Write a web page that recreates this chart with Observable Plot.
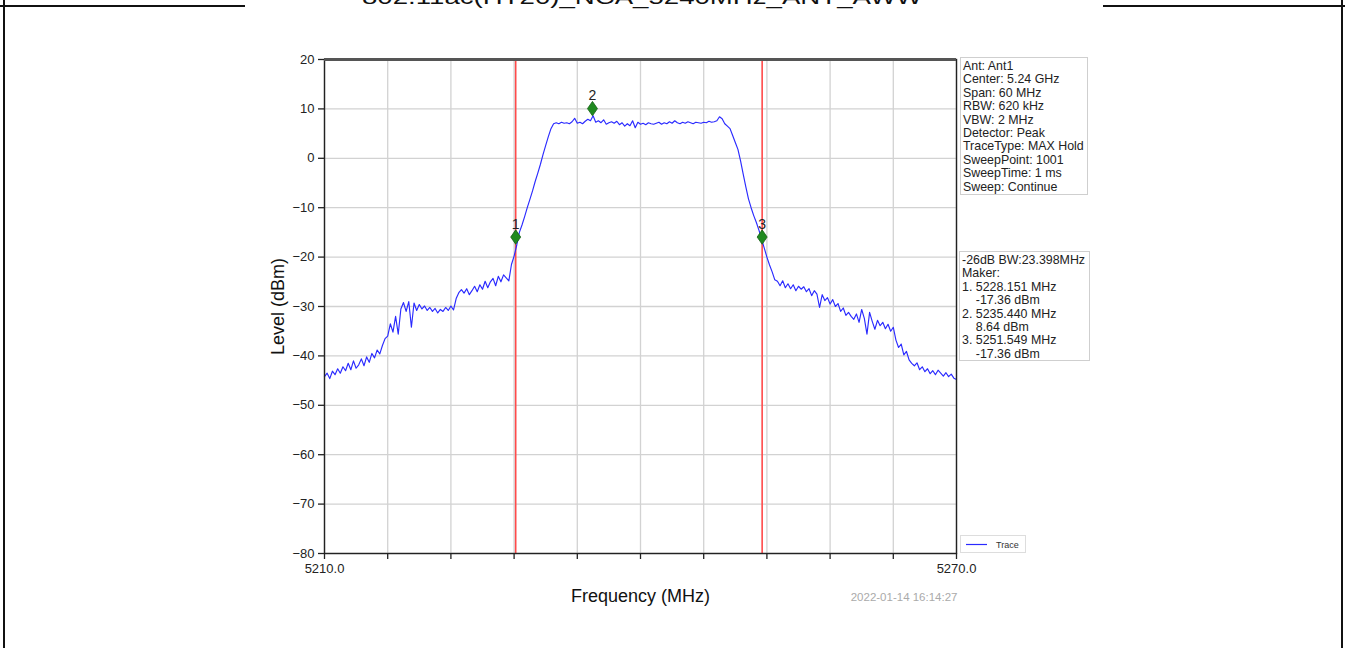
<!DOCTYPE html>
<html>
<head>
<meta charset="utf-8">
<script src="https://cdn.jsdelivr.net/npm/d3@7"></script>
<script src="https://cdn.jsdelivr.net/npm/@observablehq/plot@0.6"></script>
<style>
  html, body { margin: 0; padding: 0; background: #fff; }
  #page { position: relative; width: 1345px; height: 648px; overflow: hidden; font-family: "Liberation Sans", Arial, sans-serif; }
  .vline { position: absolute; top: 0; width: 2px; height: 648px; background: #111; }
  .hline { position: absolute; top: 5px; height: 2px; background: #111; }
  .info { position: absolute; border: 1px solid #cfcfcf; background: #fff; font-size: 12.4px; line-height: 13.4px; color: #222; padding: 2px 1px 2px 2px; box-sizing: border-box; white-space: pre; overflow: hidden; }
  #legend { position: absolute; left: 960px; top: 535px; width: 66px; height: 18px; border: 1px solid #ddd; box-sizing: border-box; background: #fff; font-size: 9px; color: #333; }
  #chart { position: absolute; left: 0; top: 0; }
</style>
</head>
<body>
<div id="page">
  <svg id="title" width="1345" height="20" style="position:absolute;left:0;top:0"></svg>
  <div class="vline" style="left:3px"></div>
  <div class="vline" style="left:1341px"></div>
  <div class="hline" style="left:0;width:245px"></div>
  <div class="hline" style="left:1103px;width:242px"></div>
  <div id="chart"></div>
  <div class="info" id="info1" style="left:960px;top:57px;width:128px;height:138px"></div>
  <div class="info" id="info2" style="left:959px;top:251px;width:131px;height:110px"></div>
  <div id="legend"></div>
</div>
<script>
// ---------- data ----------
const pageTitle = "802.11ac(HT20)_NCA_5240MHz_ANT_AWW";
const xTicks = [5210, 5216, 5222, 5228, 5234, 5240, 5246, 5252, 5258, 5264, 5270];
const xTickLabels = ["5210.0", "", "", "", "", "", "", "", "", "", "5270.0"];
const yTicks = [20, 10, 0, -10, -20, -30, -40, -50, -60, -70, -80];
const startFreq = 5210;      // MHz
const stepFreq = 0.25;       // MHz per sample
const traceLevels = [
  -44.2,-43.5,-44.6,-43.1,-43.8,-42.6,-43.5,-42.2,-43.0,-41.5,
  -42.8,-41.0,-42.5,-41.8,-40.6,-42.0,-40.2,-41.3,-39.5,-40.4,
  -38.8,-39.6,-37.9,-36.5,-36.0,-33.5,-35.2,-32.0,-35.6,-30.5,
  -29.2,-31.0,-29.0,-34.2,-29.3,-30.8,-29.6,-30.5,-29.9,-30.8,
  -30.2,-31.0,-30.4,-31.3,-30.6,-31.0,-30.2,-30.8,-29.9,-30.7,
  -28.4,-27.2,-26.6,-27.3,-26.4,-27.6,-26.8,-25.9,-27.0,-25.6,
  -26.5,-24.9,-26.2,-25.0,-24.3,-25.8,-23.9,-25.0,-23.6,-24.2,
  -24.8,-21.5,-19.8,-17.6,-15.0,-13.5,-11.8,-10.0,-8.3,-6.6,
  -4.7,-3.0,-1.2,0.8,2.6,4.4,6.0,7.0,7.2,7.0,
  7.3,7.1,7.2,7.0,7.4,8.1,7.1,7.3,7.0,7.5,
  7.9,7.6,8.6,7.3,7.6,7.2,7.8,6.9,7.2,7.4,
  7.1,7.5,6.8,7.2,6.5,7.0,6.6,7.6,6.2,7.3,
  6.9,7.1,6.8,7.2,7.0,6.9,7.1,7.3,6.9,7.2,
  7.0,7.4,7.1,7.6,7.2,7.0,7.3,7.1,7.4,7.2,
  7.0,7.3,7.2,7.1,7.3,7.2,7.5,7.3,7.4,7.6,
  8.4,8.0,7.0,6.5,6.0,4.6,3.2,1.8,-0.5,-3.2,
  -5.8,-8.2,-10.0,-11.6,-13.0,-14.6,-16.4,-18.2,-20.0,-21.6,
  -23.0,-24.6,-24.9,-25.8,-24.8,-26.2,-25.4,-26.4,-25.6,-26.8,
  -25.9,-26.5,-26.0,-27.0,-26.4,-27.8,-26.8,-27.5,-30.2,-27.6,
  -28.8,-28.2,-29.5,-28.6,-30.0,-29.4,-31.0,-30.3,-31.8,-31.2,
  -32.0,-32.6,-31.5,-33.2,-30.6,-32.4,-35.6,-31.2,-33.0,-34.6,
  -32.8,-33.9,-33.2,-34.5,-33.6,-35.0,-34.2,-36.8,-38.3,-37.6,
  -39.8,-39.1,-40.8,-41.5,-42.0,-41.4,-42.8,-42.2,-43.2,-42.6,
  -43.6,-43.0,-43.8,-42.9,-43.5,-44.1,-43.4,-44.2,-43.7,-44.5,
  -44.8
];
const markerIds = ["1", "2", "3"];
const markerFreqs = [5228.151, 5235.440, 5251.549];
const markerLevels = [-17.36, 8.64, -17.36];
const bwLineFreqs = [5228.151, 5251.549];
const infoLines = ["Ant: Ant1", "Center: 5.24 GHz", "Span: 60 MHz", "RBW: 620 kHz", "VBW: 2 MHz",
  "Detector: Peak", "TraceType: MAX Hold", "SweepPoint: 1001", "SweepTime: 1 ms", "Sweep: Continue"];
const markerInfoLines = ["-26dB BW:23.398MHz", "Maker:", "1. 5228.151 MHz", "    -17.36 dBm",
  "2. 5235.440 MHz", "    8.64 dBm", "3. 5251.549 MHz", "    -17.36 dBm"];
const xLabel = "Frequency (MHz)";
const yLabel = "Level (dBm)";
const timestamp = "2022-01-14 16:14:27";
const legendLabel = "Trace";

// ---------- build ----------
const trace = traceLevels.map((v, i) => ({f: startFreq + i * stepFreq, level: v}));
const markers = markerIds.map((id, i) => ({id, f: markerFreqs[i], level: markerLevels[i]}));

const tallDiamond = {
  draw(context, size) {
    const s = Math.sqrt(size) / 7.09;
    const w = 5.0 * s, h = 7.2 * s;
    context.moveTo(0, -h); context.lineTo(w, 0); context.lineTo(0, h); context.lineTo(-w, 0); context.closePath();
  }
};

const chart = Plot.plot({
  width: 1345,
  height: 648,
  marginLeft: 324,
  marginRight: 389,
  marginTop: 59,
  marginBottom: 95,
  style: {fontFamily: "'Liberation Sans', Arial, sans-serif", background: "transparent", color: "#222"},
  x: {domain: [xTicks[0], xTicks[xTicks.length - 1]]},
  y: {domain: [yTicks[yTicks.length - 1], yTicks[0]]},
  marks: [
    Plot.gridX(xTicks, {stroke: "#d2d2d2", strokeOpacity: 1, strokeWidth: 1.3}),
    Plot.gridY(yTicks, {stroke: "#d2d2d2", strokeOpacity: 1, strokeWidth: 1.3}),
    Plot.axisX(xTicks, {tickSize: 6, tickPadding: 4, fontSize: 13, stroke: "#222", strokeWidth: 1.3,
      tickFormat: (d) => xTickLabels[xTicks.indexOf(d)], label: null}),
    Plot.axisY(yTicks, {tickSize: 6, tickPadding: 4, fontSize: 13, stroke: "#222", strokeWidth: 1.3, label: null}),
    Plot.ruleX(bwLineFreqs, {stroke: "#ff4a4a", strokeWidth: 1.6}),
    Plot.line(trace, {x: "f", y: "level", stroke: "#2a2aff", strokeWidth: 1.15}),
    Plot.frame({stroke: "#222", strokeWidth: 1.4}),
    Plot.ruleY([yTicks[0]], {stroke: "#555", strokeWidth: 3}),
    Plot.dot(markers, {x: "f", y: "level", symbol: tallDiamond, r: 4, fill: "#1f8a1f", stroke: "#145f14", strokeWidth: 0.8, dy: -7}),
    Plot.text(markers, {x: "f", y: "level", text: "id", dy: -20, fontSize: 14, fill: "#222"}),
    Plot.text([xLabel], {frameAnchor: "bottom", textAnchor: "middle", dy: 48, fontSize: 18, fill: "#111"}),
    Plot.text([yLabel], {frameAnchor: "left", textAnchor: "middle", dx: -46, rotate: -90, fontSize: 18, fill: "#111"}),
    Plot.text([timestamp], {frameAnchor: "bottom-right", textAnchor: "end", dy: 47, dx: 1, fontSize: 11.5, fill: "#aaa"})
  ]
});
document.getElementById("chart").appendChild(chart);

// title (only lower part visible, cut at top of page as in the reference)
const tsvg = d3.select("#title");
tsvg.append("text").attr("x", 642).attr("y", 3.5).attr("text-anchor", "middle")
  .attr("textLength", 560).attr("lengthAdjust", "spacingAndGlyphs")
  .attr("font-family", "'Liberation Sans', Arial, sans-serif").attr("font-size", 20).attr("fill", "#111")
  .text(pageTitle);

document.getElementById("info1").textContent = infoLines.join("\n");
document.getElementById("info2").textContent = markerInfoLines.join("\n");

const leg = d3.select("#legend").append("svg").attr("width", 64).attr("height", 16);
leg.append("line").attr("x1", 5).attr("x2", 26).attr("y1", 8.5).attr("y2", 8.5).attr("stroke", "#2a2aff").attr("stroke-width", 1.2);
leg.append("text").attr("x", 35).attr("y", 11.5).attr("font-size", 9).attr("fill", "#333")
  .attr("font-family", "'Liberation Sans', Arial, sans-serif").text(legendLabel);
</script>
</body>
</html>
